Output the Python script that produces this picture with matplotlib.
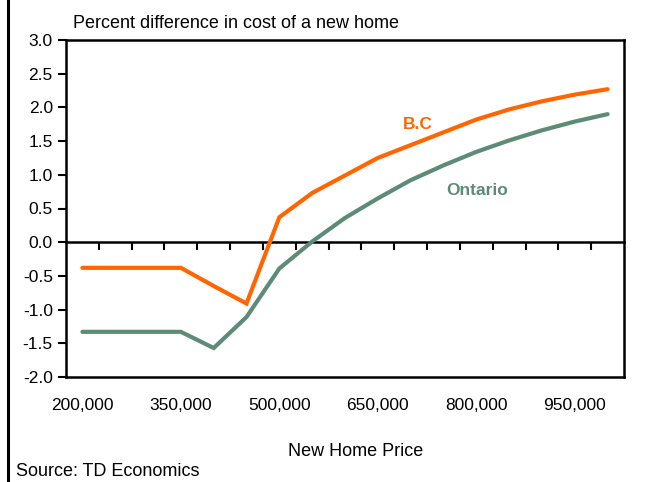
import matplotlib.pyplot as plt
from matplotlib.lines import Line2D
import numpy as np

plt.rcParams['font.family'] = ['Liberation Sans', 'DejaVu Sans']

# new home prices (categories) and percent differences
prices = list(range(200000, 1000001, 50000))
bc = [-0.38, -0.38, -0.38, -0.38, -0.65, -0.91, 0.37, 0.73, 0.99, 1.25,
      1.44, 1.63, 1.82, 1.97, 2.09, 2.19, 2.27]
ontario = [-1.33, -1.33, -1.33, -1.33, -1.57, -1.11, -0.39, 0.01, 0.36, 0.65,
           0.92, 1.14, 1.34, 1.51, 1.66, 1.79, 1.90]
label_every = 3

orange = '#FF6600'
green = '#5E8B79'

fig = plt.figure(figsize=(6.57, 4.82), dpi=100)
ax = fig.add_axes([66 / 657, 1 - 377 / 482, 558 / 657, 337 / 482])

x = np.arange(len(prices))
ax.plot(x, bc, color=orange, lw=3.0, solid_capstyle='round', solid_joinstyle='miter')
ax.plot(x, ontario, color=green, lw=3.0, solid_capstyle='round', solid_joinstyle='miter')

ymin, ymax = -2.0, 3.0
ax.set_ylim(ymin, ymax)
ax.set_xlim(-0.5, len(prices) - 0.5)
yt = np.arange(ymin, ymax + 0.01, 0.5)
ax.set_yticks(yt)
ax.set_yticklabels([f'{v:.1f}' for v in yt], fontsize=12.5)
ax.tick_params(axis='y', direction='out', length=6, width=1.5, pad=3.5)

ax.set_xticks(x[::label_every])
ax.set_xticklabels([f'{p:,}' for p in prices[::label_every]], fontsize=12.5)
ax.tick_params(axis='x', length=0, pad=15)

for s in ax.spines.values():
    s.set_linewidth(1.8)

# zero line with category tick marks
zero_ax = ax.secondary_xaxis((0 - ymin) / (ymax - ymin))
zero_ax.spines['bottom'].set_linewidth(1.8)
zero_ax.set_xticks(np.arange(0.5, len(prices) - 1, 1.0))
zero_ax.set_xticklabels([])
zero_ax.tick_params(axis='x', direction='out', length=6, width=1.5)

ax.text(10.23, 1.74, 'B.C', color=orange, fontsize=12.5, fontweight='bold', ha='center', va='center')
ax.text(12.03, 0.77, 'Ontario', color=green, fontsize=12.5, fontweight='bold', ha='center', va='center')

fig.text(73 / 657, 1 - 23 / 482, 'Percent difference in cost of a new home', fontsize=13, va='center')
fig.text(356 / 657, 1 - 451 / 482, 'New Home Price', fontsize=13, ha='center', va='center')
fig.text(16 / 657, 1 - 472 / 482, 'Source: TD Economics', fontsize=13, va='center')

fig.add_artist(Line2D([7.5 / 657, 7.5 / 657], [0, 1], color='black', lw=2.2, transform=fig.transFigure))

fig.savefig('out.png', dpi=100)
